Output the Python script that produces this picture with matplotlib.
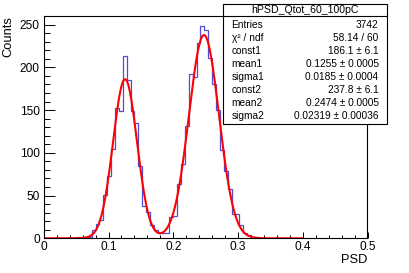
import numpy as np
import matplotlib
matplotlib.use("Agg")
import matplotlib.pyplot as plt
from matplotlib.patches import Rectangle
from matplotlib.ticker import MultipleLocator

plt.rcParams['font.family'] = ['Liberation Sans', 'DejaVu Sans']

# histogram hPSD_Qtot_60_100pC: bins of 0.006 starting at 0.050
bin_lo = 0.050
bin_width = 0.006
counts = [1, 1, 1, 2, 10, 17, 21, 51, 73, 104,
          153, 149, 213, 185, 149, 135, 84, 38, 31, 16,
          10, 6, 6, 6, 25, 26, 64, 87, 131, 192,
          189, 229, 248, 244, 211, 181, 150, 103, 79, 58,
          28, 28, 15, 6, 4, 1, 1]

# double gaussian fit parameters, as printed in the stats box
const1, mean1, sigma1 = 186.1, 0.1255, 0.0185
const2, mean2, sigma2 = 237.8, 0.2474, 0.02319
fit_lo, fit_hi = 0.0, 0.4

stats_title = "hPSD_Qtot_60_100pC"
stats_names = ["Entries", "χ² / ndf", "const1", "mean1", "sigma1",
               "const2", "mean2", "sigma2"]
stats_values = ["3742", "58.14 / 60", "186.1 ± 6.1", "0.1255 ± 0.0005",
                "0.0185 ± 0.0004", "237.8 ± 6.1", "0.2474 ± 0.0005",
                "0.02319 ± 0.00036"]

W, H = 409, 273
fig = plt.figure(figsize=(W / 100, H / 100), dpi=100)
ax = fig.add_axes([43.8 / W, 1 - 238.3 / H, 323.7 / W, 222.6 / H])

edges = bin_lo + bin_width * np.arange(len(counts) + 1)
ax.stairs(counts, edges, color=(0.3, 0.3, 0.85), linewidth=0.9)

xf = np.linspace(fit_lo, fit_hi, 600)
yf = (const1 * np.exp(-0.5 * ((xf - mean1) / sigma1) ** 2)
      + const2 * np.exp(-0.5 * ((xf - mean2) / sigma2) ** 2))
ax.plot(xf, yf, color="red", linewidth=1.5)

ax.set_xlim(0, 0.5)
ax.set_ylim(0, 1.05 * max(counts))

ax.xaxis.set_major_locator(MultipleLocator(0.1))
ax.xaxis.set_minor_locator(MultipleLocator(0.02))
ax.yaxis.set_major_locator(MultipleLocator(50))
ax.yaxis.set_minor_locator(MultipleLocator(10))
ax.xaxis.set_major_formatter(plt.FuncFormatter(lambda v, p: "0" if v == 0 else f"{v:g}"))

ax.tick_params(axis="x", which="major", direction="in", length=4.3, width=0.7,
               labelsize=8.6, pad=2.3)
ax.tick_params(axis="x", which="minor", direction="in", length=2.2, width=0.7)
ax.tick_params(axis="y", which="major", direction="in", length=8, width=0.7,
               labelsize=8.6, pad=3)
ax.tick_params(axis="y", which="minor", direction="in", length=4, width=0.7)
for s in ax.spines.values():
    s.set_linewidth(0.8)

ax.set_xlabel("PSD", fontsize=9.3, loc="right")
ax.xaxis.set_label_coords(1.0, -0.07)
ax.set_ylabel("Counts", fontsize=9.3, loc="top")
ax.yaxis.set_label_coords(-0.09, 1.0)

# stats box
bx0, bx1 = 223 / W, 387 / W
by_top, by_bot, by_title = 1 - 4 / H, 1 - 124 / H, 1 - 16 / H
fig.add_artist(Rectangle((bx0, by_bot), bx1 - bx0, by_top - by_bot,
                         transform=fig.transFigure, facecolor="white",
                         edgecolor="black", linewidth=0.8, zorder=5))
fig.add_artist(plt.Line2D([bx0, bx1], [by_title, by_title],
                          transform=fig.transFigure, color="black",
                          linewidth=0.8, zorder=6))
fig.text((bx0 + bx1) / 2, (by_title + by_top) / 2, stats_title,
         ha="center", va="center", fontsize=7.6, zorder=7)
for i, (name, val) in enumerate(zip(stats_names, stats_values)):
    yy = 1 - (24.5 + 13.1 * i) / H
    fig.text(231.5 / W, yy, name, ha="left", va="center", fontsize=7.3, zorder=7)
    fig.text(378.5 / W, yy, val, ha="right", va="center", fontsize=7.3, zorder=7)

fig.savefig("out.png", dpi=100)
